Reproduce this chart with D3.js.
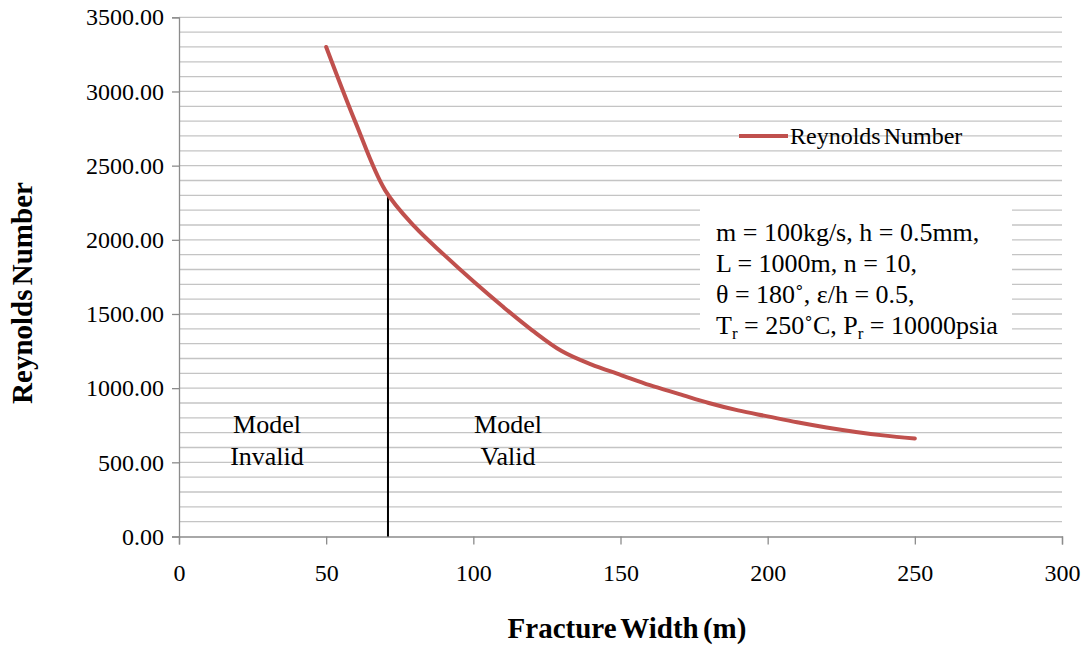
<!DOCTYPE html>
<html>
<head>
<meta charset="utf-8">
<script src="https://cdn.jsdelivr.net/npm/d3@7"></script>
<style>
  html, body { margin: 0; padding: 0; background: #fff; }
</style>
</head>
<body>
<svg id="chart" width="1088" height="647"></svg>
<script>
// Fracture width (m) vs Reynolds number
const widths   = [50, 60, 70, 80, 90, 100, 110, 120, 130, 140, 150, 160, 170, 180, 190, 200, 210, 220, 230, 240, 250];
const reynolds = [3300, 2790, 2335, 2090, 1900, 1720, 1550, 1390, 1250, 1160, 1090, 1020, 960, 900, 850, 810, 770, 735, 705, 680, 660];

const xTicks = [0, 50, 100, 150, 200, 250, 300];
const yTicks = [0, 500, 1000, 1500, 2000, 2500, 3000, 3500];

// Validity boundary of the model
const boundaryWidth = 71;
const boundaryRe = 2300;

const annotationLines = [
  "m = 100kg/s, h = 0.5mm,",
  "L = 1000m, n = 10,",
  "θ = 180˚, ε/h = 0.5,"
];

const SERIF = "font-family: 'Liberation Serif', 'Times New Roman', serif; fill: #000;";

const svg = d3.select("#chart");
const plotLeft = 179, plotRight = 1062, plotTop = 17.3, plotBottom = 536.5;

const x = d3.scaleLinear().domain([0, 300]).range([plotLeft, plotRight]);
const y = d3.scaleLinear().domain([0, 3500]).range([plotBottom, plotTop]);

// horizontal gridlines every 100
const grid = d3.range(100, 3501, 100);
svg.append("g").selectAll("line").data(grid).join("line")
  .attr("x1", plotLeft).attr("x2", plotRight)
  .attr("y1", d => y(d)).attr("y2", d => y(d))
  .attr("stroke", "#c4c4c4").attr("stroke-width", 1.3);

// axes
const yAxis = d3.axisLeft(y).tickValues(yTicks).tickSize(7).tickPadding(8)
  .tickFormat(d => d.toFixed(2));
const gy = svg.append("g").attr("transform", `translate(${plotLeft},0)`).call(yAxis);
gy.select(".domain").attr("stroke", "#8c8c8c").attr("stroke-width", 1.3);
gy.selectAll(".tick line").attr("stroke", "#8c8c8c").attr("stroke-width", 1.3);
gy.selectAll(".tick text").attr("style", SERIF + "font-size:24px;");

const xAxis = d3.axisBottom(x).tickValues(xTicks).tickSize(8).tickPadding(19)
  .tickFormat(d3.format("d"));
const gx = svg.append("g").attr("transform", `translate(0,${plotBottom})`).call(xAxis);
gx.select(".domain").attr("stroke", "#8c8c8c").attr("stroke-width", 1.3);
gx.selectAll(".tick line").attr("stroke", "#8c8c8c").attr("stroke-width", 1.3);
gx.selectAll(".tick text").attr("style", SERIF + "font-size:24px;");

// annotation box (white background hides gridlines)
svg.append("rect").attr("x", 700).attr("y", 201).attr("width", 312).attr("height", 135).attr("fill", "#fff");

// boundary line
svg.append("line")
  .attr("x1", x(boundaryWidth)).attr("x2", x(boundaryWidth))
  .attr("y1", y(0)).attr("y2", y(boundaryRe))
  .attr("stroke", "#000").attr("stroke-width", 2);

// curve
const line = d3.line().x((d, i) => x(widths[i])).y(d => y(d)).curve(d3.curveCatmullRom.alpha(0.5));
svg.append("path").datum(reynolds).attr("d", line)
  .attr("fill", "none").attr("stroke", "#c0504d").attr("stroke-width", 4).attr("stroke-linecap", "round");

// legend
svg.append("line").attr("x1", 739).attr("x2", 788).attr("y1", 136).attr("y2", 136)
  .attr("stroke", "#c0504d").attr("stroke-width", 4);
svg.append("text").attr("x", 790).attr("y", 144)
  .attr("style", SERIF + "font-size:24px; word-spacing:-3px;").text("Reynolds Number");

// region labels
function twoLine(cx, l1, l2) {
  svg.append("text").attr("x", cx).attr("y", 433).attr("text-anchor", "middle")
    .attr("style", SERIF + "font-size:26px;").text(l1);
  svg.append("text").attr("x", cx).attr("y", 465).attr("text-anchor", "middle")
    .attr("style", SERIF + "font-size:26px;").text(l2);
}
twoLine(267, "Model", "Invalid");
twoLine(508, "Model", "Valid");

// parameter annotation
const baselines = [241, 272, 303, 334];
annotationLines.forEach((l, i) => {
  svg.append("text").attr("x", 716).attr("y", baselines[i])
    .attr("style", SERIF + "font-size:26px;").text(l);
});
const last = svg.append("text").attr("x", 716).attr("y", baselines[3])
  .attr("style", SERIF + "font-size:26px;");
last.append("tspan").text("T");
last.append("tspan").style("font-size", "17px").attr("dy", 5).text("r");
last.append("tspan").attr("dy", -5).text(" = 250˚C, P");
last.append("tspan").style("font-size", "17px").attr("dy", 5).text("r");
last.append("tspan").attr("dy", -5).text(" = 10000psia");

// axis titles
svg.append("text").attr("x", 627).attr("y", 638).attr("text-anchor", "middle")
  .attr("style", SERIF + "font-size:29px; font-weight:bold; word-spacing:-3px;").text("Fracture Width (m)");
svg.append("text").attr("transform", "translate(32,293) rotate(-90)").attr("text-anchor", "middle")
  .attr("style", SERIF + "font-size:29px; font-weight:bold; word-spacing:-3px;").text("Reynolds Number");
</script>
</body>
</html>
